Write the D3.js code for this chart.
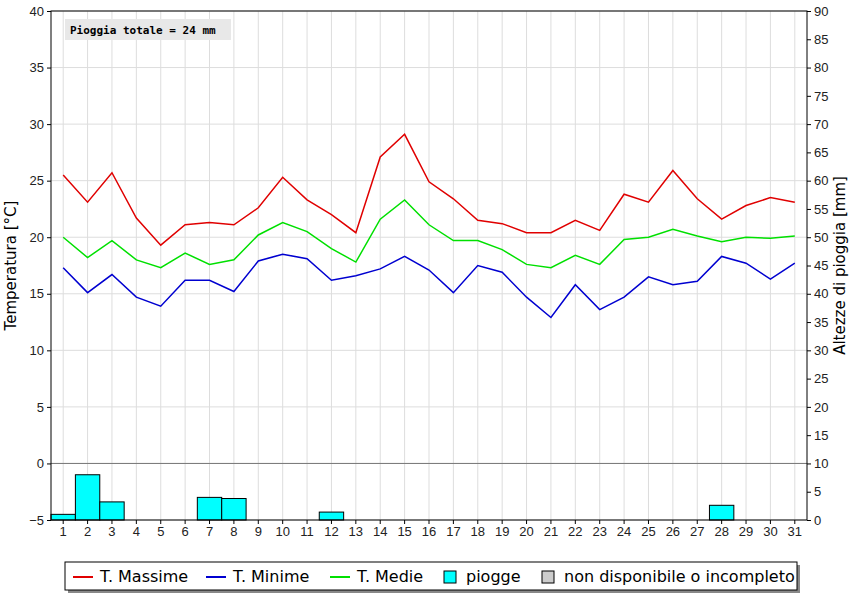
<!DOCTYPE html>
<html><head><meta charset="utf-8">
<script src="https://cdn.jsdelivr.net/npm/d3@7"></script>
<style>body{margin:0;background:#fff}svg{font-family:"DejaVu Sans",sans-serif}</style>
</head><body><svg id="c" width="865" height="600"></svg>
<script>
const days = d3.range(1, 32);
const tMax = [25.5,23.1,25.7,21.7,19.3,21.1,21.3,21.1,22.6,25.3,23.3,22.0,20.4,27.1,29.1,24.9,23.4,21.5,21.2,20.4,20.4,21.5,20.6,23.8,23.1,25.9,23.4,21.6,22.8,23.5,23.1];
const tMin = [17.3,15.1,16.7,14.7,13.9,16.2,16.2,15.2,17.9,18.5,18.1,16.2,16.6,17.2,18.3,17.1,15.1,17.5,16.9,14.7,12.9,15.8,13.6,14.7,16.5,15.8,16.1,18.3,17.7,16.3,17.7];
const tMed = [20.0,18.2,19.7,18.0,17.3,18.6,17.6,18.0,20.2,21.3,20.5,19.0,17.8,21.6,23.3,21.1,19.7,19.7,18.9,17.6,17.3,18.4,17.6,19.8,20.0,20.7,20.1,19.6,20.0,19.9,20.1];
const rain = [1.0,8.0,3.2,0,0,0,4.0,3.8,0,0,0,1.4,0,0,0,0,0,0,0,0,0,0,0,0,0,0,0,2.6,0,0,0];

const svg = d3.select('#c');
const L = 51, R = 807, T = 11, B = 520;
const x = d3.scaleBand().domain(days).range([L, R]);
const y = d3.scaleLinear().domain([-5, 40]).range([B, T]);
const y2 = d3.scaleLinear().domain([0, 90]).range([B, T]);

const g = svg.append('g');
// grid
g.selectAll('.vg').data(days).join('line')
  .attr('x1', d => x(d) + x.bandwidth()/2).attr('x2', d => x(d) + x.bandwidth()/2)
  .attr('y1', T).attr('y2', B).attr('stroke', '#ddd');
g.selectAll('.hg').data(d3.range(-5, 41, 5)).join('line')
  .attr('x1', L).attr('x2', R).attr('y1', d => y(d)).attr('y2', d => y(d)).attr('stroke', '#ddd');
g.append('line').attr('x1', L).attr('x2', R).attr('y1', y(0)).attr('y2', y(0)).attr('stroke', '#777');

// rain bars
g.selectAll('.bar').data(days.filter((d, i) => rain[i] > 0)).join('rect')
  .attr('x', d => x(d)).attr('width', x.bandwidth())
  .attr('y', d => y2(rain[d-1])).attr('height', d => B - y2(rain[d-1]))
  .attr('fill', '#00ffff').attr('stroke', '#000').attr('stroke-width', 1);

const line = arr => d3.line().x((d, i) => x(days[i]) + x.bandwidth()/2).y(d => y(d))(arr);
[[tMax, '#e00000'], [tMin, '#0000d0'], [tMed, '#00e000']].forEach(([a, c]) =>
  g.append('path').attr('d', line(a)).attr('fill', 'none').attr('stroke', c).attr('stroke-width', 1.5));

g.append('rect').attr('x', L).attr('y', T).attr('width', R - L).attr('height', B - T)
  .attr('fill', 'none').attr('stroke', '#000');

const ax = svg.append('g').attr('transform', `translate(0,${B})`)
  .call(d3.axisBottom(x).tickSize(4).tickSizeOuter(0));
const ay = svg.append('g').attr('transform', `translate(${L},0)`).call(d3.axisLeft(y).ticks(9).tickSize(4).tickSizeOuter(0));
const ay2 = svg.append('g').attr('transform', `translate(${R},0)`).call(d3.axisRight(y2).ticks(18).tickSize(4).tickSizeOuter(0));
[ax, ay, ay2].forEach(a => { a.selectAll('text').attr('font-size', 13).attr('fill', '#222'); a.select('.domain').remove(); });

svg.append('text').attr('transform', `translate(16,${(T+B)/2}) rotate(-90)`).attr('text-anchor', 'middle')
  .attr('font-size', 15).text('Temperatura [°C]');
svg.append('text').attr('transform', `translate(845,${(T+B)/2}) rotate(-90)`).attr('text-anchor', 'middle')
  .attr('font-size', 15).text('Altezze di pioggia [mm]');

svg.append('rect').attr('x', 65).attr('y', 19).attr('width', 166).attr('height', 21).attr('fill', '#e8e8e8');
svg.append('text').attr('x', 70).attr('y', 34).attr('font-family', '"DejaVu Sans Mono",monospace')
  .attr('font-weight', 'bold').attr('font-size', 11).text(`Pioggia totale = ${Math.round(d3.sum(rain))} mm`);

// legend
const lg = svg.append('g');
lg.append('rect').attr('x', 68).attr('y', 565).attr('width', 732).attr('height', 28).attr('fill', '#888');
lg.append('rect').attr('x', 65).attr('y', 562).attr('width', 732).attr('height', 28).attr('fill', '#fff').attr('stroke', '#000');
const items = [['T. Massime','#e00000',73,'l'],['T. Minime','#0000d0',206,'l'],['T. Medie','#00e000',330,'l'],['piogge','#00ffff',444,'b'],['non disponibile o incompleto','#ccc',542,'b']];
items.forEach(([t, c, px, k]) => {
  if (k === 'l') lg.append('line').attr('x1', px).attr('x2', px + 20).attr('y1', 577).attr('y2', 577).attr('stroke', c).attr('stroke-width', 2);
  else lg.append('rect').attr('x', px).attr('y', 571).attr('width', 12).attr('height', 12).attr('fill', c).attr('stroke', '#000');
  lg.append('text').attr('x', px + (k === 'l' ? 27 : 22)).attr('y', 582).attr('font-size', 16).text(t);
});
</script></body></html>
